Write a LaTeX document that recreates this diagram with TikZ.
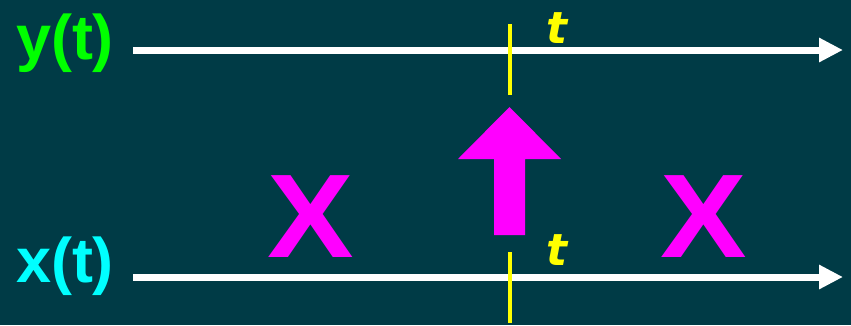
\documentclass[tikz,border=0pt]{standalone}
\usepackage{fontspec}
\setmainfont{Liberation Sans}
\newfontfamily\tfont{DejaVu Sans}
\usetikzlibrary{arrows.meta}
\definecolor{bgteal}{RGB}{0,59,70}
\definecolor{sigyellow}{RGB}{255,255,0}
\definecolor{sigmag}{RGB}{255,0,255}
\definecolor{sigcyan}{RGB}{0,255,255}
\definecolor{siggreen}{RGB}{0,255,0}
\tikzset{
  sigaxis/.style={draw=white, line width=7pt, -{Triangle[length=24pt,width=23pt]}},
  tmark/.style={draw=sigyellow, line width=4pt},
  siglabel/.style={inner sep=0pt, font=\fontsize{63}{70}\selectfont\bfseries},
  tlabel/.style={inner sep=0pt, text=sigyellow, font=\fontsize{44}{50}\selectfont\tfont\bfseries\itshape},
  crosslabel/.style={inner sep=0pt, text=sigmag, xscale=1.09, font=\fontsize{119}{130}\selectfont\bfseries},
  bigarrow/.style={fill=sigmag, draw=none}
}
\begin{document}
\begin{tikzpicture}[x=1pt,y=-1pt]
  \fill[bgteal] (0,0) rectangle (851,325);
  \useasboundingbox (0,0) rectangle (851,325);
  % labels
  \node[siglabel, text=siggreen] (ylab) at (65,43) {y(t)};
  \node[siglabel, text=sigcyan] (xlab) at (65,266) {x(t)};
  % axes
  \coordinate (ys) at (133,50);
  \coordinate (ye) at (843,50);
  \coordinate (xs) at (133,277);
  \coordinate (xe) at (843,277);
  \draw[sigaxis] (ys) -- (ye);
  \draw[sigaxis] (xs) -- (xe);
  % time markers
  \coordinate (yt1) at (509.5,24);
  \coordinate (yt2) at (509.5,95);
  \coordinate (xt1) at (509.5,252);
  \coordinate (xt2) at (509.5,323);
  \draw[tmark] (yt1) -- (yt2);
  \draw[tmark] (xt1) -- (xt2);
  \node[tlabel] (ty) at (557,28) {t};
  \node[tlabel] (tx) at (557,250.5) {t};
  % big arrow
  \fill[bigarrow] (494,235) -- (494,159) -- (458,159) -- (509.5,107) -- (561,159) -- (525,159) -- (525,235) -- cycle;
  % crosses
  \node[crosslabel] (xleft) at (310.5,216.5) {X};
  \node[crosslabel] (xright) at (703.5,216.5) {X};
\end{tikzpicture}
\end{document}
